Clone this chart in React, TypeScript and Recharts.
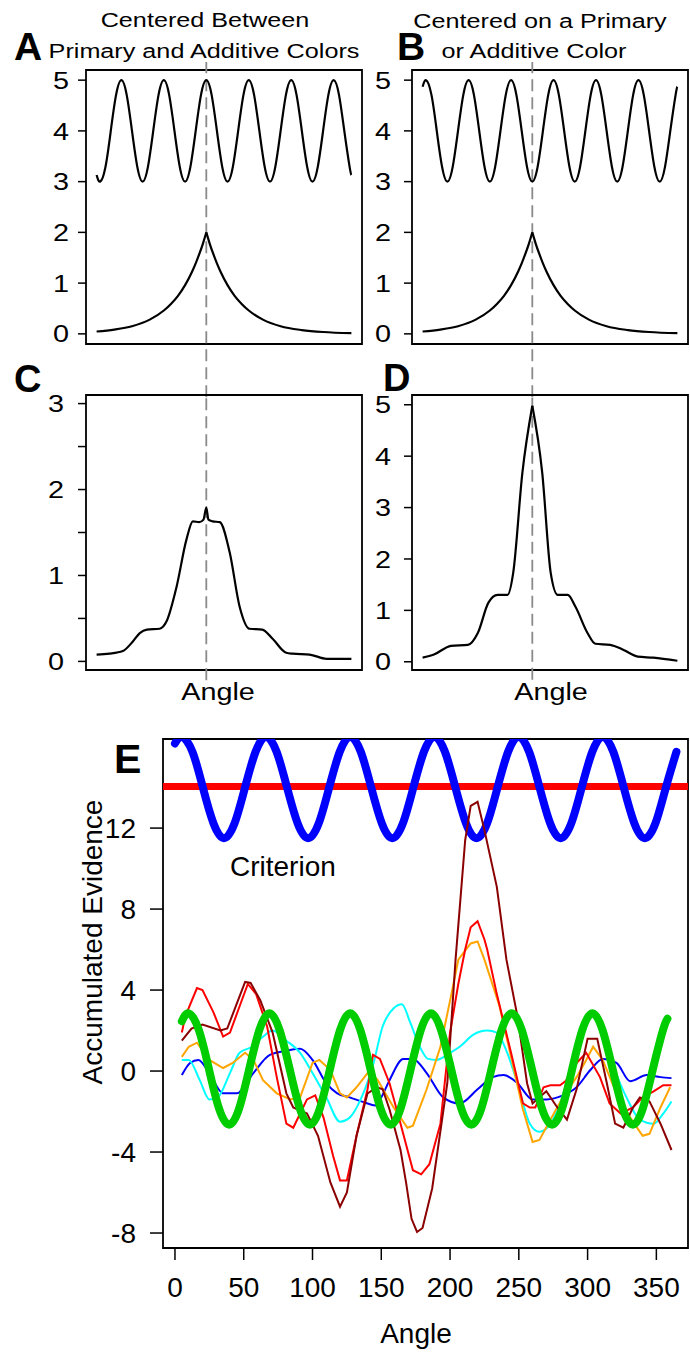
import React from 'react';
import { LineChart, Line, XAxis, YAxis, ReferenceArea, ReferenceLine } from 'recharts';

const FONT = '"Liberation Sans", Arial, Helvetica, sans-serif';
const SX = 1.2;

// ---------- Panels A / B ----------
const sineAngles = [0, 5, 12.5, 20, 27.5, 35, 42.5, 50, 57.5, 65, 72.5, 80, 87.5, 95, 102.5, 110, 117.5, 125, 132.5, 140, 147.5, 155, 162.5, 170, 177.5, 185, 192.5, 200, 207.5, 215, 222.5, 230, 237.5, 245, 252.5, 260, 267.5, 275, 282.5, 290, 297.5, 305, 312.5, 320, 327.5, 335, 342.5, 350, 357.5, 360];
const sineA = [3.13, 3, 3.29, 4, 4.71, 5, 4.71, 4, 3.29, 3, 3.29, 4, 4.71, 5, 4.71, 4, 3.29, 3, 3.29, 4, 4.71, 5, 4.71, 4, 3.29, 3, 3.29, 4, 4.71, 5, 4.71, 4, 3.29, 3, 3.29, 4, 4.71, 5, 4.71, 4, 3.29, 3, 3.29, 4, 4.71, 5, 4.71, 4, 3.29, 3.13];
const sineB = [4.87, 5, 4.71, 4, 3.29, 3, 3.29, 4, 4.71, 5, 4.71, 4, 3.29, 3, 3.29, 4, 4.71, 5, 4.71, 4, 3.29, 3, 3.29, 4, 4.71, 5, 4.71, 4, 3.29, 3, 3.29, 4, 4.71, 5, 4.71, 4, 3.29, 3, 3.29, 4, 4.71, 5, 4.71, 4, 3.29, 3, 3.29, 4, 4.71, 4.87];
const peakLeftAngles = [0, 25, 50, 75, 95, 105, 115, 125, 135, 140, 145, 150, 155];
const peakLeftValues = [0.046, 0.084, 0.15, 0.28, 0.46, 0.59, 0.75, 0.96, 1.23, 1.39, 1.57, 1.77, 2.0];
const peakRightAngles = [155, 160, 165, 170, 175, 185, 195, 205, 215, 235, 260, 290, 320, 360];
const peakRightValues = [2.0, 1.77, 1.57, 1.39, 1.23, 0.96, 0.75, 0.59, 0.46, 0.28, 0.15, 0.075, 0.036, 0.013];

// ---------- Panel C ----------
const cAngles = [0, 18, 37, 50, 61, 71, 89, 99, 113, 127, 136, 145, 151, 155, 158, 164, 174, 188, 202, 216, 234, 249, 268, 277, 301, 325, 360];
const cValues = [0.08, 0.09, 0.12, 0.22, 0.33, 0.37, 0.38, 0.47, 0.87, 1.42, 1.63, 1.62, 1.65, 1.79, 1.65, 1.63, 1.62, 1.27, 0.64, 0.38, 0.37, 0.26, 0.1, 0.09, 0.08, 0.03, 0.03];

// ---------- Panel D ----------
const dLeftAngles = [0, 16, 40, 64, 78, 93, 106, 120, 128, 141, 155];
const dLeftValues = [0.08, 0.14, 0.31, 0.33, 0.56, 1.15, 1.3, 1.3, 1.73, 3.68, 4.98];
const dRightAngles = [155, 169, 181, 191, 205, 216, 233, 244, 265, 284, 304, 326, 360];
const dRightValues = [4.98, 3.68, 1.73, 1.3, 1.3, 1.07, 0.56, 0.35, 0.33, 0.23, 0.1, 0.08, 0.02];

// ---------- Panel E ----------
const criterionLine = [[-10, 14.05], [374, 14.05]];
const blueWaveAngles = [0, 5, 12.7, 20.3, 28, 35.6, 43.3, 50.9, 58.6, 66.2, 73.9, 81.5, 89.2, 96.8, 104.5, 112.1, 119.8, 127.4, 135.1, 142.7, 150.4, 158, 165.7, 173.3, 181, 188.6, 196.3, 203.9, 211.6, 219.2, 226.9, 234.5, 242.2, 249.8, 257.5, 265.1, 272.8, 280.4, 288.1, 295.7, 303.4, 311, 318.7, 326.3, 334, 341.6, 349.3, 356.9, 364.6];
const blueWaveValues = [16.18, 16.5, 15.77, 14, 12.23, 11.5, 12.23, 14, 15.77, 16.5, 15.77, 14, 12.23, 11.5, 12.23, 14, 15.77, 16.5, 15.77, 14, 12.23, 11.5, 12.23, 14, 15.77, 16.5, 15.77, 14, 12.23, 11.5, 12.23, 14, 15.77, 16.5, 15.77, 14, 12.23, 11.5, 12.23, 14, 15.77, 16.5, 15.77, 14, 12.23, 11.5, 12.23, 14, 15.77];
const greenWaveAngles = [5, 10, 17.3, 24.7, 32, 39.4, 46.7, 54, 61.4, 68.7, 76, 83.4, 90.7, 98.1, 105.4, 112.7, 120.1, 127.4, 134.7, 142.1, 149.4, 156.8, 164.1, 171.4, 178.8, 186.1, 193.4, 200.8, 208.1, 215.5, 222.8, 230.1, 237.5, 244.8, 252.1, 259.5, 266.8, 274.2, 281.5, 288.8, 296.2, 303.5, 310.8, 318.2, 325.5, 332.9, 340.2, 347.5, 354.9, 358];
const greenWaveValues = [2.46, 2.85, 2.04, 0.1, -1.84, -2.65, -1.84, 0.1, 2.04, 2.85, 2.04, 0.1, -1.84, -2.65, -1.84, 0.1, 2.04, 2.85, 2.04, 0.1, -1.84, -2.65, -1.84, 0.1, 2.04, 2.85, 2.04, 0.1, -1.84, -2.65, -1.84, 0.1, 2.04, 2.85, 2.04, 0.1, -1.84, -2.65, -1.84, 0.1, 2.04, 2.85, 2.04, 0.1, -1.84, -2.65, -1.84, 0.1, 2.04, 2.58];

const darkRedTrace = [[5, 1.5], [12, 2.1], [20, 2.3], [33, 2.0], [38, 2.1], [51, 4.4], [55, 4.35], [62, 3.5], [71, 1.9], [81, -1.1], [86, -1.8], [96, -2.1], [104, -3.2], [113, -5.5], [120, -6.7], [125, -6.0], [132, -3.2], [140, -1.1], [147, -0.8], [151, -0.9], [156, -1.9], [164, -3.9], [168, -5.5], [172, -7.3], [176, -7.95], [180, -7.75], [187, -5.8], [198, -0.6], [204, 5.5], [211, 11.4], [215, 13.1], [220, 13.3], [225, 11.9], [234, 9.1], [241, 5.5], [249, 2.7], [256, -0.6], [260, -1.6], [265, -1.3], [270, -1.0], [278, -1.8], [285, -2.4], [292, -0.9], [300, 1.6], [307, 1.6], [314, -0.6], [320, -2.6], [326, -2.8], [333, -1.8], [338, -1.3], [345, -1.5], [353, -2.6], [361, -3.9]];
const redTrace = [[5, 1.9], [7.5, 2.7], [16, 4.1], [20, 4.0], [28, 2.9], [35, 1.7], [40, 1.9], [47, 3.2], [53, 4.3], [59, 3.8], [67, 2.2], [74, -0.3], [81, -2.6], [86, -2.8], [96, -1.4], [102, -1.2], [108, -2.3], [115, -4.2], [120, -5.4], [125, -5.4], [132, -3.2], [140, -0.9], [144, 0.8], [149, 0.6], [156, -0.6], [164, -2.6], [173, -4.9], [179, -5.1], [185, -4.6], [193, -2.6], [200, 1.9], [206, 4.3], [211, 6.0], [215, 7.1], [220, 7.4], [225, 6.5], [227, 6.0], [234, 3.8], [244, 1.0], [253, -1.6], [258, -1.8], [262, -1.8], [268, -0.8], [273, -0.7], [280, -0.7], [284, -0.5], [292, 0.4], [299, 0.9], [309, -0.3], [316, -1.6], [324, -2.1], [333, -1.8], [340, -1.3], [348, -1.0], [355, -0.7], [361, -0.7]];
const orangeTrace = [[5, 0.7], [10, 1.2], [16, 1.4], [25, 0.55], [35, 0.15], [42, 0.4], [51, 0.9], [57, 0.55], [64, -0.45], [74, -1.1], [84, -1.4], [91, -1.3], [100, 0.4], [105, 0.55], [113, 0.05], [120, -1.1], [125, -1.3], [132, -0.8], [140, -0.1], [147, -0.4], [159, -1.8], [169, -2.8], [173, -2.7], [183, -0.9], [193, 1.2], [201, 3.8], [206, 5.5], [215, 6.3], [220, 6.4], [225, 5.5], [236, 3.2], [246, 0.2], [253, -1.9], [260, -3.5], [265, -3.4], [273, -2.4], [282, -1.3], [292, -0.3], [299, 0.55], [304, 1.2], [311, 0.55], [321, -1.1], [331, -2.3], [340, -3.2], [345, -3.1], [353, -1.8], [360, -0.8]];
const cyanTrace = [[5, 0.55], [10, 0.55], [18, -0.45], [25, -1.4], [31, -1.3], [40, -0.1], [47, 0.9], [56, 1.2], [64, 1.7], [71, 2.0], [81, 1.5], [91, 0.9], [100, -0.1], [110, -1.3], [120, -2.5], [127, -2.3], [135, -1.4], [144, 0.3], [151, 2.2], [159, 3.1], [165, 3.3], [171, 2.4], [178, 1.2], [184, 0.6], [190, 0.55], [200, 0.9], [207, 1.2], [217, 1.8], [227, 2.0], [234, 1.9], [241, 1.0], [249, -0.6], [258, -2.6], [265, -3.0], [273, -2.6], [280, -1.6], [287, -0.1], [295, 1.4], [303, 2.7], [311, 1.9], [319, 0.2], [329, -1.4], [338, -2.4], [348, -2.6], [355, -2.1], [361, -1.5]];
const blueTrace = [[5, -0.2], [11, 0.4], [17, 0.55], [25, -0.1], [35, -1.1], [45, -1.1], [57, -0.1], [69, 0.8], [81, 1.0], [91, 1.1], [100, 0.55], [110, -0.6], [118, -1.1], [127, -1.3], [140, -1.6], [146, -1.7], [150, -1.3], [156, -0.45], [166, 0.6], [173, 0.6], [183, -0.1], [195, -1.3], [207, -1.6], [220, -0.9], [231, -0.3], [239, -0.2], [249, -0.6], [260, -1.4], [270, -1.4], [282, -1.2], [292, -0.8], [302, 0.05], [311, 0.6], [321, 0.4], [331, -0.5], [343, -0.2], [353, -0.3], [361, -0.35]];

const eXTicks = [0, 50, 100, 150, 200, 250, 300, 350];
const eYTicks = [-8, -4, 0, 4, 8, 12];

const zip = (xs: number[], ys: number[]) => xs.map((x, i) => ({ x, y: ys[i] }));
const pairs = (p: number[][]) => p.map(([x, y]) => ({ x, y }));

const X_DOMAIN: [number, number] = [-15, 375];
const DASH_X = 155;

type Series = { data: { x: number; y: number }[]; type: 'monotone' | 'natural' | 'linear' };

const makeTick = (labels: number[], size: number) => (props: any) => {
  const { x, y, payload } = props;
  const v = payload.value;
  if (!labels.includes(v)) return <g />;
  return (
    <g transform={`translate(${x},${y}) scale(${SX},1)`}>
      <text x={0} y={0} textAnchor="end" dy="0.36em" fontSize={size} fill="#000" fontFamily={FONT}>
        {v}
      </text>
    </g>
  );
};

function Panel(props: {
  left: number; top: number; width: number; height: number;
  margin: { top: number; right: number; bottom: number; left: number };
  yDomain: [number, number]; yTicks: number[]; labels: number[]; tickMargin: number;
  series: Series[]; dash: [number, number];
}) {
  const { left, top, width, height, margin, yDomain, yTicks, labels, tickMargin, series, dash } = props;
  return (
    <div style={{ position: 'absolute', left, top }}>
      <LineChart width={width} height={height} margin={margin}>
        <XAxis type="number" dataKey="x" domain={X_DOMAIN} hide allowDataOverflow />
        <YAxis
          type="number"
          domain={yDomain}
          ticks={yTicks}
          width={60}
          axisLine={false}
          tickLine={{ stroke: '#000', strokeWidth: 1.5 }}
          tickSize={8}
          tickMargin={tickMargin}
          tick={makeTick(labels, 24)}
          interval={0}
          allowDataOverflow
        />
        <ReferenceArea x1={X_DOMAIN[0]} x2={X_DOMAIN[1]} y1={yDomain[0]} y2={yDomain[1]} fill="none" stroke="#000" strokeWidth={1.8} fillOpacity={0} ifOverflow="visible" />
        <ReferenceLine
          segment={[{ x: DASH_X, y: dash[0] }, { x: DASH_X, y: dash[1] }]}
          stroke="#8a8a8a"
          strokeWidth={1.8}
          strokeDasharray="12 6"
          ifOverflow="visible"
        />
        {series.map((s, i) => (
          <Line key={i} data={s.data} dataKey="y" type={s.type} stroke="#000" strokeWidth={2.2} dot={false} isAnimationActive={false} />
        ))}
      </LineChart>
    </div>
  );
}

function PanelE() {
  return (
    <div style={{ position: 'absolute', left: 0, top: 700 }}>
      <LineChart width={690} height={653} margin={{ top: 39, right: 2, bottom: 45, left: 83 }}>
        <XAxis
          type="number"
          dataKey="x"
          domain={[-8.7, 373]}
          ticks={eXTicks}
          interval={0}
          height={60}
          axisLine={false}
          tickLine={{ stroke: '#000', strokeWidth: 1.5 }}
          tickSize={12}
          tickMargin={17}
          tick={{ fontSize: 28, fill: '#000', fontFamily: FONT }}
          allowDataOverflow
        />
        <YAxis
          type="number"
          domain={[-8.74, 16.4]}
          ticks={eYTicks}
          interval={0}
          width={80}
          axisLine={false}
          tickLine={{ stroke: '#000', strokeWidth: 1.5 }}
          tickSize={13}
          tickMargin={14}
          tick={{ fontSize: 28, fill: '#000', fontFamily: FONT }}
          allowDataOverflow
        />
        <ReferenceArea x1={-8.7} x2={373} y1={-8.74} y2={16.4} fill="none" fillOpacity={0} stroke="#000" strokeWidth={1.8} ifOverflow="visible" />
        <Line data={pairs(criterionLine)} dataKey="y" type="linear" stroke="#ff0000" strokeWidth={7} dot={false} isAnimationActive={false} />
        <Line data={zip(blueWaveAngles, blueWaveValues)} dataKey="y" type="natural" stroke="#0000ff" strokeWidth={8} strokeLinecap="round" dot={false} isAnimationActive={false} />
        <Line data={pairs(blueTrace)} dataKey="y" type="monotone" stroke="#0000ff" strokeWidth={2} dot={false} isAnimationActive={false} />
        <Line data={pairs(cyanTrace)} dataKey="y" type="monotone" stroke="#00ffff" strokeWidth={2} dot={false} isAnimationActive={false} />
        <Line data={pairs(orangeTrace)} dataKey="y" type="linear" stroke="#ffa500" strokeWidth={2} dot={false} isAnimationActive={false} />
        <Line data={pairs(redTrace)} dataKey="y" type="linear" stroke="#ff0000" strokeWidth={2} dot={false} isAnimationActive={false} />
        <Line data={pairs(darkRedTrace)} dataKey="y" type="linear" stroke="#8b0000" strokeWidth={2} dot={false} isAnimationActive={false} />
        <Line data={zip(greenWaveAngles, greenWaveValues)} dataKey="y" type="natural" stroke="#00cd00" strokeWidth={8} strokeLinecap="round" dot={false} isAnimationActive={false} />
      </LineChart>
    </div>
  );
}

function Stretch({ x, y, size, anchor, children }: { x: number; y: number; size: number; anchor: string; children: React.ReactNode }) {
  return (
    <g transform={`translate(${x},${y}) scale(${SX},1)`}>
      <text x={0} y={0} fontSize={size} textAnchor={anchor as any} fill="#000" fontFamily={FONT}>{children}</text>
    </g>
  );
}

export default function App() {
  const abMarginL = { top: 70, right: 8, bottom: 56, left: 26 };
  const abMarginR = { top: 70, right: 2, bottom: 56, left: 12 };
  const cdMarginL = { top: 55, right: 8, bottom: 30, left: 26 };
  const cdMarginR = { top: 55, right: 2, bottom: 30, left: 12 };
  return (
    <div style={{ position: 'absolute', left: 0, top: 0, width: 690, height: 1353, background: '#fff', fontFamily: FONT, overflow: 'hidden' }}>
      <Panel left={0} top={0} width={370} height={400} margin={abMarginL}
        yDomain={[-0.2, 5.2]} yTicks={[0, 1, 2, 3, 4, 5]} labels={[0, 1, 2, 3, 4, 5]} tickMargin={9}
        series={[
          { data: zip(sineAngles, sineA), type: 'natural' },
          { data: zip(peakLeftAngles, peakLeftValues), type: 'monotone' },
          { data: zip(peakRightAngles, peakRightValues), type: 'monotone' },
        ]}
        dash={[-1.25, 5.36]} />
      <Panel left={340} top={0} width={350} height={400} margin={abMarginR}
        yDomain={[-0.2, 5.2]} yTicks={[0, 1, 2, 3, 4, 5]} labels={[0, 1, 2, 3, 4, 5]} tickMargin={13}
        series={[
          { data: zip(sineAngles, sineB), type: 'natural' },
          { data: zip(peakLeftAngles, peakLeftValues), type: 'monotone' },
          { data: zip(peakRightAngles, peakRightValues), type: 'monotone' },
        ]}
        dash={[-1.25, 5.36]} />
      <Panel left={0} top={340} width={370} height={360} margin={cdMarginL}
        yDomain={[-0.1, 3.1]} yTicks={[0, 0.5, 1, 1.5, 2, 2.5, 3]} labels={[0, 1, 2, 3]} tickMargin={14}
        series={[{ data: zip(cAngles, cValues), type: 'monotone' }]}
        dash={[-0.22, 3.1]} />
      <Panel left={340} top={340} width={350} height={360} margin={cdMarginR}
        yDomain={[-0.16, 5.19]} yTicks={[0, 1, 2, 3, 4, 5]} labels={[0, 1, 2, 3, 4, 5]} tickMargin={13}
        series={[
          { data: zip(dLeftAngles, dLeftValues), type: 'monotone' },
          { data: zip(dRightAngles, dRightValues), type: 'monotone' },
        ]}
        dash={[-0.35, 5.19]} />
      <PanelE />
      <svg width={690} height={1353} style={{ position: 'absolute', left: 0, top: 0, pointerEvents: 'none' }}>
        <Stretch x={205} y={27} size={21} anchor="middle">Centered Between</Stretch>
        <Stretch x={204} y={58} size={21} anchor="middle">Primary and Additive Colors</Stretch>
        <Stretch x={540} y={28} size={21} anchor="middle">Centered on a Primary</Stretch>
        <Stretch x={534} y={58} size={21} anchor="middle">or Additive Color</Stretch>
        <text x={14} y={60} fontSize={39} fontWeight="bold" fontFamily={FONT} fill="#000">A</text>
        <text x={397} y={60} fontSize={39} fontWeight="bold" fontFamily={FONT} fill="#000">B</text>
        <text x={14} y={392} fontSize={38} fontWeight="bold" fontFamily={FONT} fill="#000">C</text>
        <text x={383} y={391} fontSize={38} fontWeight="bold" fontFamily={FONT} fill="#000">D</text>
        <Stretch x={218} y={700} size={24} anchor="middle">Angle</Stretch>
        <Stretch x={551} y={700} size={24} anchor="middle">Angle</Stretch>
        <text x={114} y={773} fontSize={41} fontWeight="bold" fontFamily={FONT} fill="#000">E</text>
        <text x={230} y={876} fontSize={28} fontFamily={FONT} fill="#000">Criterion</text>
        <text transform="translate(102,942) rotate(-90)" textAnchor="middle" fontSize={28} fontFamily={FONT} fill="#000">Accumulated Evidence</text>
        <text x={416} y={1343} textAnchor="middle" fontSize={28} fontFamily={FONT} fill="#000">Angle</text>
      </svg>
    </div>
  );
}
